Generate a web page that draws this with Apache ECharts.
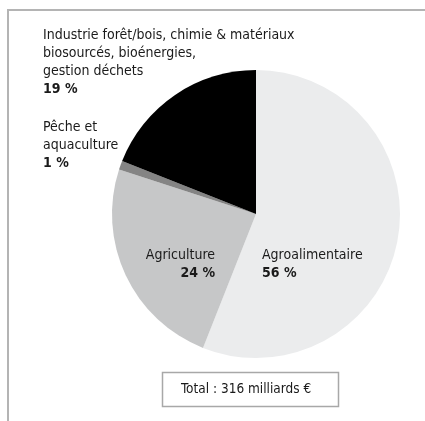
<!DOCTYPE html>
<html>
<head>
<meta charset="utf-8">
<style>
  html, body { margin: 0; padding: 0; background: #ffffff; }
  #chart { width: 425px; height: 421px; }
</style>
<script src="https://cdn.jsdelivr.net/npm/echarts@6/dist/echarts.min.js"></script>
</head>
<body>
<div id="chart"></div>
<script>
// Répartition de la valeur de la bioéconomie par secteur (en %)
const categories = [
  'Agroalimentaire',
  'Agriculture',
  'Pêche et\naquaculture',
  'Industrie forêt/bois, chimie & matériaux\nbiosourcés, bioénergies,\ngestion déchets'
];
const shares = [56, 24, 1, 19];
const sliceColors = ['#ebeced', '#c6c7c8', '#848484', '#000000'];
const totalBillions = 316;

const FONT = '"Liberation Sans Narrow", "DejaVu Sans Condensed", "Liberation Sans", sans-serif';

// Label anchors (top-left or top-right of each text block)
const labelAnchors = [
  { x: 262, y: 246, align: 'left' },
  { x: 215, y: 246, align: 'right' },
  { x: 43, y: 118, align: 'left' },
  { x: 43, y: 26, align: 'left' }
];

const chart = echarts.init(document.getElementById('chart'), null, { renderer: 'canvas' });

chart.setOption({
  backgroundColor: '#ffffff',
  animation: false,
  graphic: [
    { type: 'line', shape: { x1: 8, y1: 10, x2: 425, y2: 10 }, style: { stroke: '#b4b4b4', lineWidth: 2 } },
    { type: 'line', shape: { x1: 8, y1: 9, x2: 8, y2: 421 }, style: { stroke: '#b4b4b4', lineWidth: 2 } },
    { type: 'rect', shape: { x: 162.5, y: 372.5, width: 176, height: 34 }, style: { fill: '#ffffff', stroke: '#a8a8a8', lineWidth: 1.5 } },
    {
      type: 'text', left: 181, top: 382,
      style: { text: 'Total : ' + totalBillions + ' milliards €', font: '13.5px ' + FONT, fill: '#1a1a1a' }
    }
  ],
  series: [{
    type: 'pie',
    center: [256, 214],
    radius: [0, 144],
    startAngle: 90,
    clockwise: true,
    avoidLabelOverlap: false,
    labelLine: { show: false },
    itemStyle: { borderWidth: 0 },
    label: {
      show: true,
      position: 'inside',
      formatter: p => p.name + '\n{v|' + p.value + ' %}',
      fontFamily: FONT,
      fontSize: 14,
      lineHeight: 18,
      color: '#1a1a1a',
      rich: {
        v: { fontFamily: FONT, fontSize: 14, fontWeight: 'bold', lineHeight: 18, color: '#1a1a1a' }
      }
    },
    labelLayout: p => {
      const a = labelAnchors[p.dataIndex];
      return { x: a.x, y: a.y, align: a.align, verticalAlign: 'top', moveOverlap: false };
    },
    emphasis: { disabled: true },
    data: categories.map((c, i) => ({ name: c, value: shares[i], itemStyle: { color: sliceColors[i] } }))
  }]
});
</script>
</body>
</html>
